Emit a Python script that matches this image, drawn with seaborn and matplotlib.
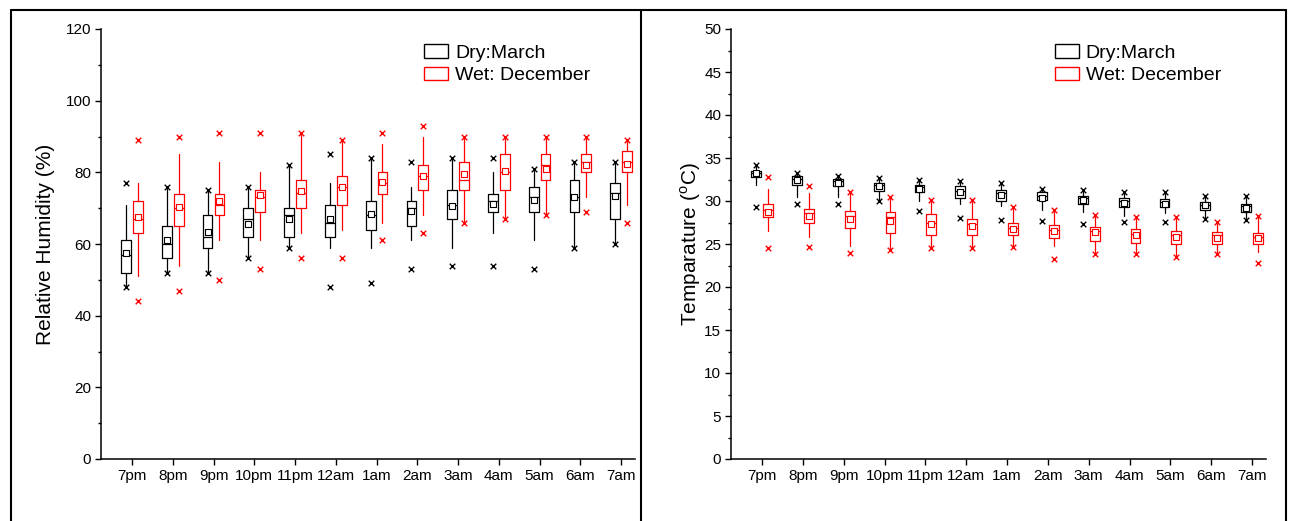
import numpy as np
import pandas as pd
import matplotlib
matplotlib.use('Agg')
import matplotlib.pyplot as plt
import seaborn as sns
from matplotlib.patches import Patch
from matplotlib.lines import Line2D
from matplotlib.ticker import MultipleLocator

hours = ['7pm', '8pm', '9pm', '10pm', '11pm', '12am', '1am', '2am', '3am', '4am', '5am', '6am', '7am']
series_labels = ['Dry:March', 'Wet: December']

# ---- Relative humidity (%) ----
rh_dry_min = [48, 52, 52, 56, 59, 48, 49, 53, 54, 54, 53, 59, 60]
rh_dry_whislo = [48, 52, 52, 56, 59, 59, 59, 61, 59, 63, 61, 59, 60]
rh_dry_q1 = [52, 56, 59, 62, 62, 62, 64, 65, 67, 69, 69, 69, 67]
rh_dry_med = [56.9, 60, 62, 67, 68, 66, 68, 70, 71, 72, 73, 73, 74.2]
rh_dry_mean = [57.6, 61.1, 63.4, 65.5, 67, 67, 68.5, 69.2, 70.7, 71.3, 72.2, 73, 73.3]
rh_dry_q3 = [61, 65, 68, 70, 70, 71, 72, 72, 75, 74, 76, 78, 77]
rh_dry_whishi = [71, 76, 75, 76, 82, 77, 84, 76, 84, 80, 81, 83, 83]
rh_dry_max = [77, 76, 75, 76, 82, 85, 84, 83, 84, 84, 81, 83, 83]

rh_wet_min = [44, 47, 50, 53, 56, 56, 61, 63, 66, 67, 68, 69, 66]
rh_wet_whislo = [51, 54, 61, 61, 63, 64, 66, 68, 66, 67, 68, 73, 71]
rh_wet_q1 = [63, 65, 68, 69, 70, 71, 74, 75, 75, 75, 78, 80, 80]
rh_wet_med = [67, 70, 71, 73, 74.2, 76, 76.9, 79, 78, 80, 82, 83, 83]
rh_wet_mean = [67.5, 70.4, 72, 73.6, 74.8, 76, 77.4, 79, 79.4, 80.3, 81, 82, 82.3]
rh_wet_q3 = [72, 74, 74, 75, 78, 79, 80, 82, 83, 85, 85, 85, 86]
rh_wet_whishi = [77, 85, 83, 80, 91, 89, 88, 90, 90, 90, 90, 90, 89]
rh_wet_max = [89, 90, 91, 91, 91, 89, 91, 93, 90, 90, 90, 90, 89]

# ---- Temperature (C) ----
t_dry_min = [29.3, 29.7, 29.7, 30.0, 28.8, 28.0, 27.8, 27.7, 27.3, 27.6, 27.6, 27.9, 27.8]
t_dry_whislo = [31.9, 30.5, 30.5, 30.0, 30.0, 29.7, 29.4, 29.0, 28.7, 28.3, 28.6, 27.9, 27.9]
t_dry_q1 = [32.8, 31.9, 31.7, 31.2, 31.0, 30.4, 30.0, 30.1, 29.7, 29.3, 29.3, 29.0, 28.7]
t_dry_med = [33.3, 32.6, 32.3, 31.9, 31.6, 31.2, 30.9, 30.6, 30.3, 30.0, 29.9, 29.5, 29.4]
t_dry_mean = [33.2, 32.4, 32.1, 31.7, 31.4, 31.0, 30.7, 30.4, 30.1, 29.8, 29.7, 29.5, 29.2]
t_dry_q3 = [33.5, 32.9, 32.6, 32.1, 31.9, 31.7, 31.3, 31.0, 30.6, 30.4, 30.2, 29.9, 29.7]
t_dry_whishi = [34.2, 33.3, 32.9, 32.7, 32.5, 32.3, 32.1, 31.4, 31.3, 31.1, 31.1, 30.6, 30.6]
t_dry_max = [34.2, 33.3, 32.9, 32.7, 32.5, 32.3, 32.1, 31.4, 31.3, 31.1, 31.1, 30.6, 30.6]

t_wet_min = [24.5, 24.7, 23.9, 24.3, 24.5, 24.5, 24.7, 23.3, 23.8, 23.8, 23.5, 23.8, 22.8]
t_wet_whislo = [26.5, 25.8, 24.8, 24.3, 24.5, 24.5, 24.7, 24.8, 23.8, 23.8, 23.5, 23.8, 24.1]
t_wet_q1 = [28.1, 27.5, 26.9, 26.3, 26.1, 26.1, 26.0, 25.7, 25.4, 25.1, 25.0, 25.0, 25.0]
t_wet_med = [29.0, 28.6, 28.3, 28.1, 27.5, 27.3, 26.9, 26.6, 26.5, 26.2, 26.0, 26.0, 25.8]
t_wet_mean = [28.7, 28.2, 27.9, 27.7, 27.3, 27.1, 26.8, 26.5, 26.4, 26.0, 25.8, 25.7, 25.7]
t_wet_q3 = [29.6, 29.1, 28.8, 28.7, 28.5, 27.9, 27.5, 27.2, 27.0, 26.8, 26.5, 26.4, 26.3]
t_wet_whishi = [31.4, 30.9, 31.1, 30.5, 30.1, 30.1, 29.3, 29.0, 28.4, 28.1, 28.1, 27.6, 28.2]
t_wet_max = [32.8, 31.8, 31.1, 30.5, 30.1, 30.1, 29.3, 29.0, 28.4, 28.1, 28.1, 27.6, 28.2]

sns.set_theme(style='ticks')
plt.rcParams['font.family'] = ['Liberation Sans', 'DejaVu Sans']
plt.rcParams['mathtext.fontset'] = 'custom'
plt.rcParams['mathtext.rm'] = 'Liberation Sans'
plt.rcParams['text.color'] = 'black'
plt.rcParams['axes.labelcolor'] = 'black'
plt.rcParams['xtick.color'] = 'black'
plt.rcParams['ytick.color'] = 'black'
plt.rcParams['axes.edgecolor'] = 'black'

W, H = 1289, 521
fig = plt.figure(figsize=(W / 100, H / 100), dpi=100)


def rect(x0, y0, x1, y1):
    return [x0 / W, 1 - y1 / H, (x1 - x0) / W, (y1 - y0) / H]


ax1 = fig.add_axes(rect(101, 29, 635, 459))
ax2 = fig.add_axes(rect(731, 29, 1266, 459))

pos = np.arange(len(hours))
OFF = 0.145
BW = 0.24


def draw_series(ax, color, off, whislo, q1, med, q3, whishi, mean, vmin, vmax):
    stats = []
    for i in range(len(hours)):
        stats.append(dict(whislo=whislo[i], q1=q1[i], med=med[i], q3=q3[i],
                          whishi=whishi[i], fliers=[]))
    lp = dict(color=color, linewidth=0.9)
    ax.bxp(stats, positions=pos + off, widths=BW, showfliers=False, showcaps=False,
           boxprops=lp, whiskerprops=lp, medianprops=lp, manage_ticks=False)
    df = pd.DataFrame({'x': pos + off, 'mean': mean, 'vmin': vmin, 'vmax': vmax})
    sns.scatterplot(data=df, x='x', y='mean', marker='s', s=14, color='white',
                    edgecolor=color, linewidth=0.8, ax=ax, zorder=5)
    ext = pd.DataFrame({'x': np.concatenate([df['x'], df['x']]),
                        'v': np.concatenate([df['vmin'], df['vmax']])})
    sns.scatterplot(data=ext, x='x', y='v', marker='x', s=16, color=color,
                    linewidth=1.0, ax=ax, zorder=5)


def style_axis(ax, ymax, major, minor, ylabel):
    ax.set_xlim(-0.76, 12.34)
    ax.set_ylim(0, ymax)
    ax.set_xticks(pos)
    ax.set_xticklabels(hours)
    ax.yaxis.set_major_locator(MultipleLocator(major))
    ax.yaxis.set_minor_locator(MultipleLocator(minor))
    ax.set_xlabel('')
    sns.despine(ax=ax)
    for s in ['left', 'bottom']:
        ax.spines[s].set_linewidth(1.1)
        ax.spines[s].set_color('black')
    ax.tick_params(axis='both', which='major', direction='out', length=4, width=1,
                   labelsize=11, pad=3, color='black')
    ax.tick_params(axis='y', which='minor', direction='out', length=2.5, width=1, color='black')
    ax.tick_params(axis='x', which='minor', bottom=False)
    handles = [Patch(facecolor='white', edgecolor='black', linewidth=1),
               Patch(facecolor='white', edgecolor='red', linewidth=1)]
    ax.legend(handles, series_labels, loc='upper left', bbox_to_anchor=(0.605, 0.965),
              frameon=False, fontsize=14, borderpad=0, borderaxespad=0,
              handlelength=1.25, handleheight=0.7, handletextpad=0.35, labelspacing=0.25)


draw_series(ax1, 'black', -OFF, rh_dry_whislo, rh_dry_q1, rh_dry_med, rh_dry_q3,
            rh_dry_whishi, rh_dry_mean, rh_dry_min, rh_dry_max)
draw_series(ax1, 'red', OFF, rh_wet_whislo, rh_wet_q1, rh_wet_med, rh_wet_q3,
            rh_wet_whishi, rh_wet_mean, rh_wet_min, rh_wet_max)
style_axis(ax1, 120, 20, 10, '')
ax1.set_ylabel('Relative Humidity (%)', fontsize=15, labelpad=8)

draw_series(ax2, 'black', -OFF, t_dry_whislo, t_dry_q1, t_dry_med, t_dry_q3,
            t_dry_whishi, t_dry_mean, t_dry_min, t_dry_max)
draw_series(ax2, 'red', OFF, t_wet_whislo, t_wet_q1, t_wet_med, t_wet_q3,
            t_wet_whishi, t_wet_mean, t_wet_min, t_wet_max)
style_axis(ax2, 50, 5, 2.5, '')
ax2.set_ylabel('Temparature ($^{\\rm o}$C)', fontsize=15, labelpad=1)

# table-like frame around the two panels
def fl(x0, y0, x1, y1):
    fig.add_artist(Line2D([x0 / W, x1 / W], [1 - y0 / H, 1 - y1 / H],
                          transform=fig.transFigure, color='black', linewidth=1.5))

fl(11, 10, 1286, 10)
fl(11, 10, 11, 521)
fl(641, 10, 641, 521)
fl(1286, 10, 1286, 521)

fig.savefig('out.png', dpi=100)
